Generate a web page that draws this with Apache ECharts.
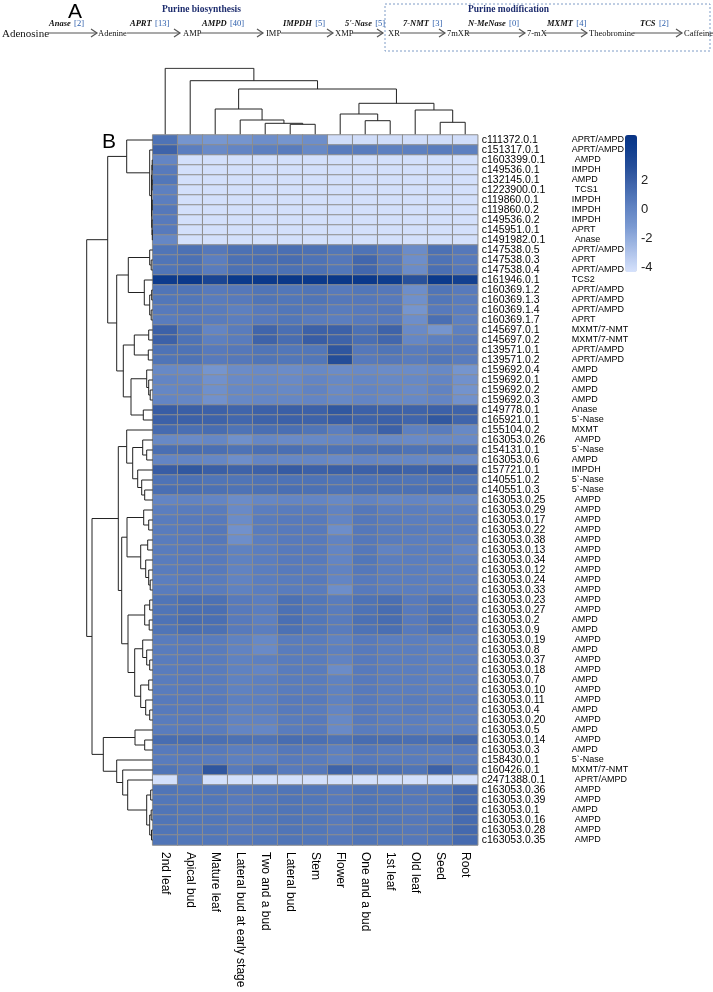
<!DOCTYPE html>
<html><head><meta charset="utf-8">
<script src="https://cdn.jsdelivr.net/npm/echarts@6/dist/echarts.min.js"></script>
<style>html,body{margin:0;padding:0;background:#fff}#c{width:713px;height:992px}</style>
</head><body><div id="c"></div>
<script>
// ---------------- DATA ----------------
const tissues = ['2nd leaf','Apical bud','Mature leaf','Lateral bud at early stage','Two and a bud','Lateral bud','Stem','Flower','One and a bud','1st leaf','Old leaf','Seed','Root'];

const geneIds = ['c111372.0.1','c151317.0.1','c1603399.0.1','c149536.0.1','c132145.0.1','c1223900.0.1','c119860.0.1','c119860.0.2','c149536.0.2','c145951.0.1','c1491982.0.1',
'c147538.0.5','c147538.0.3','c147538.0.4','c161946.0.1','c160369.1.2','c160369.1.3','c160369.1.4','c160369.1.7','c145697.0.1','c145697.0.2','c139571.0.1','c139571.0.2',
'c159692.0.4','c159692.0.1','c159692.0.2','c159692.0.3','c149778.0.1','c165921.0.1','c155104.0.2','c163053.0.26','c154131.0.1','c163053.0.6','c157721.0.1','c140551.0.2','c140551.0.3',
'c163053.0.25','c163053.0.29','c163053.0.17','c163053.0.22','c163053.0.38','c163053.0.13','c163053.0.34','c163053.0.12','c163053.0.24','c163053.0.33','c163053.0.23','c163053.0.27',
'c163053.0.2','c163053.0.9','c163053.0.19','c163053.0.8','c163053.0.37','c163053.0.18','c163053.0.7','c163053.0.10','c163053.0.11','c163053.0.4','c163053.0.20','c163053.0.5',
'c163053.0.14','c163053.0.3','c158430.0.1','c160426.0.1','c2471388.0.1','c163053.0.36','c163053.0.39','c163053.0.1','c163053.0.16','c163053.0.28','c163053.0.35'];

const geneNames = ['APRT/AMPD','APRT/AMPD','AMPD','IMPDH','AMPD','TCS1','IMPDH','IMPDH','IMPDH','APRT','Anase',
'APRT/AMPD','APRT','APRT/AMPD','TCS2','APRT/AMPD','APRT/AMPD','APRT/AMPD','APRT','MXMT/7-NMT','MXMT/7-NMT','APRT/AMPD','APRT/AMPD',
'AMPD','AMPD','AMPD','AMPD','Anase','5`-Nase','MXMT','AMPD','5`-Nase','AMPD','IMPDH','5`-Nase','5`-Nase',
'AMPD','AMPD','AMPD','AMPD','AMPD','AMPD','AMPD','AMPD','AMPD','AMPD','AMPD','AMPD',
'AMPD','AMPD','AMPD','AMPD','AMPD','AMPD','AMPD','AMPD','AMPD','AMPD','AMPD','AMPD',
'AMPD','AMPD','5`-Nase','MXMT/7-NMT','APRT/AMPD','AMPD','AMPD','AMPD','AMPD','AMPD','AMPD'];

// one row per gene, one value per tissue (same order as tissues)
const expression = [
[1.0,-0.9,-1.0,-0.9,-0.5,-0.9,-0.5,-4.1,-4.1,-4.1,-4.1,-4.1,-4.1],
[1.8,0.4,-0.3,0.0,0.3,0.5,-0.2,0.5,0.5,0.3,0.3,0.5,0.3],
[0.0,-4.2,-4.2,-4.2,-4.2,-4.2,-4.2,-4.2,-4.2,-4.2,-4.2,-4.2,-4.2],
[0.6,-4.2,-4.2,-4.2,-4.2,-4.2,-4.2,-4.2,-4.2,-4.2,-4.2,-4.2,-4.2],
[0.8,-4.2,-4.2,-4.2,-4.2,-4.2,-4.2,-4.2,-4.2,-4.2,-4.2,-4.2,-4.2],
[0.3,-4.2,-4.2,-4.2,-4.2,-4.2,-4.2,-4.2,-4.2,-4.2,-4.2,-4.2,-4.2],
[0.4,-4.2,-4.2,-4.2,-4.2,-4.2,-4.2,-4.2,-4.2,-4.2,-4.2,-4.2,-4.2],
[0.7,-4.2,-4.2,-4.2,-4.2,-4.2,-4.2,-4.2,-4.2,-4.2,-4.2,-4.2,-4.2],
[0.6,-4.2,-4.2,-4.2,-4.2,-4.2,-4.2,-4.2,-4.2,-4.2,-4.2,-4.2,-4.2],
[0.6,-4.2,-4.2,-4.2,-4.2,-4.2,-4.2,-4.2,-4.2,-4.2,-4.2,-4.2,-4.2],
[-0.1,-4.2,-4.2,-4.2,-4.2,-4.2,-4.2,-4.2,-4.2,-4.2,-4.2,-4.2,-4.2],
[0.9,1.1,0.7,1.1,1.1,1.2,1.1,0.8,1.0,0.6,-0.4,1.1,0.7],
[0.9,1.1,0.4,1.1,1.2,1.3,1.0,0.7,1.6,0.7,-0.5,1.0,0.6],
[0.9,1.1,0.5,1.1,1.0,1.1,1.1,0.8,1.6,0.8,-0.4,1.2,0.7],
[4.4,4.6,3.6,4.5,4.6,4.7,4.6,4.7,4.6,4.3,2.8,4.5,4.0],
[0.9,0.9,0.6,0.7,0.9,0.8,0.9,0.6,0.8,0.7,-0.5,0.9,0.6],
[0.8,0.8,0.5,0.6,0.9,0.8,0.9,0.7,0.7,0.6,-0.6,0.8,0.5],
[0.6,0.7,0.5,0.3,0.6,0.8,0.7,0.5,0.6,0.7,-0.9,0.6,0.4],
[0.5,0.6,0.5,0.4,0.6,0.8,0.5,0.4,0.6,0.6,-0.5,1.2,0.3],
[1.9,1.0,0.0,0.5,1.7,1.2,1.9,1.9,1.1,1.8,-0.3,-0.9,0.3],
[1.9,1.0,0.3,0.5,1.8,1.3,2.1,1.8,1.2,1.6,-0.1,0.3,0.5],
[1.0,1.0,0.6,0.7,0.9,0.8,0.8,2.5,0.7,0.9,0.5,0.7,0.6],
[0.9,1.0,0.6,0.7,0.9,0.8,0.8,3.0,0.6,0.7,0.5,0.8,0.5],
[-0.2,-0.3,-0.9,-0.4,-0.3,-0.4,-0.2,-0.4,-0.3,-0.4,-0.4,-0.2,-0.9],
[0.0,-0.1,-0.7,-0.3,-0.2,-0.3,0.0,-0.2,-0.1,-0.2,-0.2,0.0,-0.7],
[-0.1,0.0,-0.6,-0.2,-0.1,-0.2,0.1,-0.3,0.0,-0.1,-0.3,0.1,-0.8],
[0.0,-0.1,-0.7,-0.2,-0.1,-0.1,0.0,-0.2,0.0,-0.2,-0.2,0.0,-0.7],
[2.1,2.0,1.9,1.7,1.9,2.0,1.9,2.4,1.9,1.9,1.8,1.9,1.8],
[1.9,1.9,1.8,1.6,1.8,1.9,1.8,2.1,1.8,1.9,1.7,2.4,1.7],
[1.4,1.2,1.3,1.0,1.2,1.2,0.9,0.4,1.2,1.9,0.3,0.5,-0.2],
[-0.2,-0.3,-0.1,-0.6,-0.1,-0.3,-0.2,-0.1,0.0,-0.2,-0.3,-0.3,-0.3],
[1.2,1.3,1.2,1.0,1.2,1.2,1.0,1.0,1.1,1.2,1.0,1.1,1.0],
[0.0,0.0,-0.1,-0.5,0.0,-0.1,-0.1,-0.3,0.0,-0.1,-0.1,-0.2,-0.3],
[2.1,2.4,2.0,1.8,1.9,2.2,1.9,2.0,1.9,2.0,1.8,2.0,1.9],
[1.0,1.1,0.9,0.9,1.0,1.0,1.0,0.9,1.0,1.0,0.9,1.0,0.9],
[1.2,1.2,1.1,1.0,1.1,1.2,1.1,1.0,1.1,1.1,1.1,1.2,1.1],
[0.0,0.1,0.0,-0.4,-0.1,0.0,0.0,-0.2,0.1,-0.1,0.0,-0.1,-0.1],
[0.4,0.5,0.5,-0.3,0.4,0.5,0.5,0.1,0.7,0.4,0.4,0.3,0.3],
[0.5,0.6,0.6,-0.4,0.5,0.6,0.6,0.0,0.7,0.5,0.4,0.4,0.4],
[0.5,0.6,0.7,-0.7,0.5,0.6,0.6,-0.5,0.7,0.5,0.5,0.4,0.4],
[0.5,0.6,0.7,-0.5,0.4,0.6,0.6,0.1,0.7,0.5,0.4,0.4,0.3],
[0.5,0.6,0.6,0.2,0.4,0.6,0.6,0.0,0.7,0.1,0.4,0.4,0.0],
[0.5,0.6,0.6,0.2,0.4,0.6,0.6,0.0,0.8,0.4,0.4,0.4,0.2],
[0.5,0.6,0.6,0.1,0.4,0.6,0.5,0.1,0.7,0.4,0.4,0.3,0.3],
[0.4,0.6,0.5,0.1,0.4,0.5,0.6,0.0,0.6,0.4,0.4,0.4,0.3],
[0.5,0.6,0.5,0.2,0.4,0.5,0.5,-0.5,0.6,0.4,0.4,0.4,0.3],
[0.9,1.2,1.1,0.6,0.4,1.1,0.8,0.5,1.0,1.2,0.6,1.0,0.6],
[0.9,1.2,1.2,0.6,0.4,1.1,0.8,0.5,1.0,1.3,0.6,1.0,0.6],
[1.0,1.3,1.2,0.6,0.3,1.2,0.8,0.5,1.1,1.3,0.6,1.1,0.6],
[0.9,1.2,1.1,0.6,0.4,1.1,0.8,0.5,1.0,1.2,0.6,1.0,0.6],
[0.5,0.6,0.5,0.2,-0.2,0.5,0.5,0.2,0.6,0.4,0.4,0.3,0.3],
[0.5,0.6,0.5,0.1,-0.3,0.5,0.5,0.3,0.6,0.4,0.4,0.3,0.3],
[0.5,0.6,0.5,0.2,0.3,0.5,0.5,0.1,0.6,0.4,0.4,0.3,0.3],
[0.5,0.6,0.5,0.2,0.0,0.5,0.5,-0.4,0.6,0.4,0.4,0.3,0.3],
[0.5,0.6,0.5,0.2,0.3,0.5,0.5,0.2,0.6,0.4,0.4,0.3,0.3],
[0.5,0.6,0.5,0.2,0.3,0.5,0.5,0.2,0.6,0.4,0.4,0.3,0.3],
[0.6,0.6,0.6,0.3,0.3,0.6,0.6,0.2,0.6,0.4,0.5,0.4,0.4],
[0.6,0.6,0.6,0.2,0.3,0.6,0.5,0.0,0.6,0.4,0.5,0.4,0.3],
[0.5,0.6,0.5,0.1,0.1,0.5,0.6,-0.2,0.6,0.4,0.4,0.3,0.3],
[0.5,0.6,0.5,0.0,-0.1,0.5,0.6,-0.3,0.5,0.4,0.4,0.3,0.3],
[1.3,1.3,1.2,1.1,1.0,1.3,1.2,1.0,1.3,1.3,1.2,1.2,1.5],
[0.6,0.7,0.6,0.4,0.4,0.7,0.6,0.3,0.7,0.5,0.5,0.5,0.6],
[0.5,0.6,0.5,0.3,0.3,0.6,0.5,0.2,0.6,0.5,0.5,0.4,0.5],
[0.9,0.7,2.5,0.6,1.2,0.6,0.7,1.8,1.3,1.2,0.9,1.9,0.9],
[-4.2,0.3,-4.2,-4.2,-4.2,-4.2,-4.2,-4.2,-4.2,-4.2,-4.2,-4.2,-4.2],
[0.9,0.8,0.8,0.7,0.8,0.9,0.8,0.6,0.9,0.8,0.7,0.8,1.5],
[0.8,0.8,0.8,0.6,0.7,0.9,0.8,0.6,0.9,0.8,0.7,0.8,1.4],
[0.9,0.8,0.8,0.6,0.8,0.9,0.8,0.7,0.9,0.8,0.7,0.8,1.5],
[0.9,0.8,0.8,0.7,0.8,0.9,0.8,0.6,0.9,0.8,0.7,0.8,1.4],
[0.9,0.8,0.8,0.6,0.7,0.9,0.8,0.6,0.9,0.8,0.7,0.9,1.5],
[0.9,0.8,0.8,0.7,0.8,0.9,0.8,0.7,0.9,0.8,0.7,0.8,1.4]
];

// dendrograms: [mergeHeight, left, right]; numbers are leaf indices
const colTree = [66, 0, [53.6, 1, [45.3, [25.3, 2, [14.3, 3, [11, 4, [10, 5, 6]]]], [31, [20.3, 7, [13.6, 8, 9]], [24.3, 10, [12, 11, 12]]]]]];

const rowTreeT = [26, 0, [3, 1, [1.2, [0.8, [0.5, 2, 3], [0.6, 4, 5]], [1.0, [0.5, 6, 7], [0.7, 8, [0.4, 9, 10]]]]]];
const rowTreeU1 = [24.4, [3, 11, [1.5, 12, 13]], [8.4, 14, [3, [1, 15, 16], [1.5, 17, 18]]]];
const rowTreeU2 = [29.4, [18.4, [4, 19, 20], [4.4, 21, 22]], [21.7, [6, 23, [4, 24, [2.5, 25, 26]]], [9.4, 27, 28]]];
const rowTreeY1 = [26, 29, [20, [10, 30, [6, 31, 32]], [15, 33, [11, 34, [8, 35, 36]]]]];
const rowTreeY2 = [25.7, [9, 37, [4, 38, 39]], [12, [5, 40, 41], [7, 42, [4, 43, [2.5, 44, 45]]]]];
const rowTreeY3 = [24.7, [8, [3, 46, 47], [3.5, 48, 49]], [18, [10, 50, [6, 51, [3, 52, 53]]], [12, [4, 54, 55], [7, 56, [3, 57, 58]]]]];
const rowTreeZ1 = [17.7, 59, [8, 60, 61]];
const rowTreeZ2 = [36, 62, [30, 63, [25, 64, [6, [2, 65, 66], [3, [1.5, 67, 68], [1.2, 69, 70]]]]]];
const rowTree = [66,
  [45, rowTreeT, [36, rowTreeU1, rowTreeU2]],
  [60.7, [34.4, rowTreeY1, [31, rowTreeY2, rowTreeY3]], [49.4, rowTreeZ1, rowTreeZ2]]];

const legendTicks = [-4, -2, 0, 2];
const scaleMin = -4.3, scaleMax = 5.1;

// panel A pathway
const compounds = ['Adenosine','Adenine','AMP','IMP','XMP','XR','7mXR','7-mX','Theobromine','Caffeine'];
const enzymes = ['Anase','APRT','AMPD','IMPDH',"5'-Nase",'7-NMT','N-MeNase','MXMT','TCS'];
const enzymeCounts = [2,13,40,5,5,3,0,4,2];

// ---------------- STYLE / LAYOUT ----------------
const colorStops = [[-4.3,'#d6e2fc'],[-1.2,'#7b9ad2'],[0.3,'#5d80c0'],[1.2,'#4a6fb3'],[2.0,'#3a5fa6'],[3.0,'#244d98'],[4.5,'#0b3a8c'],[5.1,'#0a3383']];
function hex2rgb(h){return [1,3,5].map(i=>parseInt(h.substr(i,2),16));}
function colorAt(v){
  for(let i=0;i<colorStops.length-1;i++){
    const [a,ca]=colorStops[i],[b,cb]=colorStops[i+1];
    if(v<=b){const t=(v-a)/(b-a);const A=hex2rgb(ca),B=hex2rgb(cb);
      return 'rgb('+A.map((x,k)=>Math.round(x+(B[k]-x)*t)).join(',')+')';}
  }
  return colorStops[colorStops.length-1][1];
}
const gradient=[];
for(let k=0;k<=94;k++) gradient.push(colorAt(scaleMin+(scaleMax-scaleMin)*k/94));

const heatData=[];
expression.forEach((row,r)=>row.forEach((v,c)=>heatData.push([c,r,v])));

function layoutTree(node, segs, swap){
  if(typeof node==='number') return {pos:node,h:0};
  const [h,l,r]=node;
  const L=layoutTree(l,segs,swap), R=layoutTree(r,segs,swap);
  let pts=[[L.pos,L.h],[L.pos,h],[R.pos,h],[R.pos,R.h]];
  if(swap) pts=pts.map(p=>[p[1],p[0]]);
  segs.push({coords:pts});
  return {pos:(L.pos+R.pos)/2,h:h};
}
const colSegs=[], rowSegs=[];
layoutTree(colTree,colSegs,false);
layoutTree(rowTree,rowSegs,true);

const HM={left:152.7, top:135, width:325, height:710};

// Panel A graphics
const compoundX=[2,98,183,266,335,388,447,527,589,684];
const compoundFont=[11,8.5,8.5,8.5,8.5,8.5,8.5,8.5,8.5,8.5];
const arrowX=[[48,97],[127,180],[200,263],[281,333],[352,383],[400,445],[465,525],[543,587],[634,682]];
const labelX=[49,130,202,283,345,403,468,547,640];
const gfx=[];
const serif="'Liberation Serif','Times New Roman',serif";
gfx.push({type:'text',x:68,y:2,style:{text:'A',font:"21px 'Liberation Sans',Arial,sans-serif",fill:'#000'}});
gfx.push({type:'text',x:102,y:132,style:{text:'B',font:"21px 'Liberation Sans',Arial,sans-serif",fill:'#000'}});
gfx.push({type:'rect',shape:{x:385,y:4,width:325,height:47},style:{fill:'none',stroke:'#7f9cc7',lineWidth:1,lineDash:[2,2]}});
gfx.push({type:'text',x:162,y:5,style:{text:'Purine biosynthesis',font:"bold 9.5px "+serif,fill:'#1e2d6e'}});
gfx.push({type:'text',x:468,y:5,style:{text:'Purine modification',font:"bold 9.5px "+serif,fill:'#1e2d6e'}});
compounds.forEach((c,i)=>{
  gfx.push({type:'text',x:compoundX[i],y:34,style:{text:c,font:compoundFont[i]+'px '+serif,fill:'#111',textVerticalAlign:'middle'}});
});
arrowX.forEach((a,i)=>{
  gfx.push({type:'line',shape:{x1:a[0],y1:33,x2:a[1],y2:33},style:{stroke:'#555',lineWidth:1.2}});
  gfx.push({type:'polyline',shape:{points:[[a[1]-6,29],[a[1],33],[a[1]-6,37]]},style:{stroke:'#555',lineWidth:1.2,fill:'none'}});
  gfx.push({type:'text',x:labelX[i],y:24,style:{text:'{e|'+enzymes[i]+'} {n|['+enzymeCounts[i]+']}',textVerticalAlign:'middle',
    rich:{e:{font:'bold italic 8.5px '+serif,fill:'#111'},n:{font:'8.5px '+serif,fill:'#2a5caa'}}}});
});

const chart=echarts.init(document.getElementById('c'),null,{renderer:'canvas'});
const sans="'Liberation Sans',Arial,sans-serif";
chart.setOption({
  backgroundColor:'#fff',
  animation:false,
  graphic:gfx,
  grid:[
    {left:HM.left,top:HM.top,width:HM.width,height:HM.height},
    {left:HM.left,top:68,width:HM.width,height:66.3},
    {left:HM.left-66,top:HM.top,width:66,height:HM.height},
    {left:637,top:135,width:1,height:137}
  ],
  xAxis:[
    {type:'category',gridIndex:0,data:tissues,position:'bottom',axisLine:{show:false},axisTick:{show:false},splitLine:{show:false},
     axisLabel:{rotate:-90,fontSize:12,color:'#000',fontFamily:sans,margin:7,interval:0}},
    {type:'value',gridIndex:1,min:-0.5,max:12.5,show:false},
    {type:'value',gridIndex:2,min:0,max:66,inverse:true,show:false},
    {type:'value',gridIndex:3,min:0,max:1,show:false}
  ],
  yAxis:[
    {type:'category',gridIndex:0,data:geneIds,inverse:true,position:'right',axisLine:{show:false},axisTick:{show:false},
     axisLabel:{interval:0,margin:4,fontFamily:sans,fontSize:10.5,color:'#000',
       formatter:(v,i)=>'{'+(v.length>11?'w':'a')+'|'+v+'}{b|'+geneNames[i]+'}',
       rich:{a:{width:90,fontSize:10.5,fontFamily:sans,color:'#000'},w:{width:93,fontSize:10.5,fontFamily:sans,color:'#000'},b:{fontSize:9,fontFamily:sans,color:'#000'}}}},
    {type:'value',gridIndex:1,min:0,max:66.3,show:false},
    {type:'value',gridIndex:2,min:-0.5,max:70.5,inverse:true,show:false},
    {type:'value',gridIndex:3,min:scaleMin,max:scaleMax,position:'right',axisLine:{show:false},axisTick:{show:false},splitLine:{show:false},
     axisLabel:{customValues:legendTicks,fontSize:13,color:'#222',fontFamily:sans,margin:3}}
  ],
  visualMap:{type:'continuous',seriesIndex:0,min:scaleMin,max:scaleMax,calculable:false,show:true,
    left:625,top:135,itemWidth:12,itemHeight:137,padding:0,text:null,
    inRange:{color:gradient},textStyle:{color:'transparent'}},
  series:[
    {type:'heatmap',xAxisIndex:0,yAxisIndex:0,data:heatData,itemStyle:{borderColor:'#8e8e8e',borderWidth:1},silent:true},
    {type:'lines',coordinateSystem:'cartesian2d',xAxisIndex:1,yAxisIndex:1,polyline:true,data:colSegs,
     lineStyle:{color:'#222',width:1,opacity:1},silent:true},
    {type:'lines',coordinateSystem:'cartesian2d',xAxisIndex:2,yAxisIndex:2,polyline:true,data:rowSegs,
     lineStyle:{color:'#222',width:1,opacity:1},silent:true},
    {type:'scatter',xAxisIndex:3,yAxisIndex:3,data:[],silent:true}
  ]
});
</script></body></html>
